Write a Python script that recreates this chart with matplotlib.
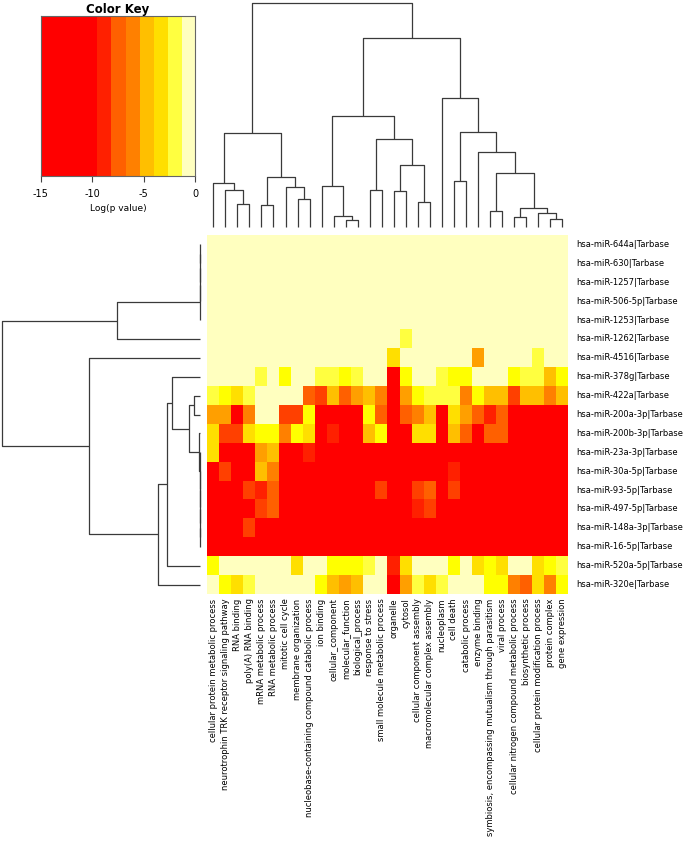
import numpy as np
import matplotlib
matplotlib.use("Agg")
import matplotlib.pyplot as plt
from matplotlib.colors import ListedColormap, BoundaryNorm

row_labels = [
    "hsa-miR-644a|Tarbase", "hsa-miR-630|Tarbase", "hsa-miR-1257|Tarbase",
    "hsa-miR-506-5p|Tarbase", "hsa-miR-1253|Tarbase", "hsa-miR-1262|Tarbase",
    "hsa-miR-4516|Tarbase", "hsa-miR-378g|Tarbase", "hsa-miR-422a|Tarbase",
    "hsa-miR-200a-3p|Tarbase", "hsa-miR-200b-3p|Tarbase", "hsa-miR-23a-3p|Tarbase",
    "hsa-miR-30a-5p|Tarbase", "hsa-miR-93-5p|Tarbase", "hsa-miR-497-5p|Tarbase",
    "hsa-miR-148a-3p|Tarbase", "hsa-miR-16-5p|Tarbase", "hsa-miR-520a-5p|Tarbase",
    "hsa-miR-320e|Tarbase",
]

col_labels = [
    "cellular protein metabolic process", "neurotrophin TRK receptor signaling pathway",
    "RNA binding", "poly(A) RNA binding", "mRNA metabolic process",
    "RNA metabolic process", "mitotic cell cycle", "membrane organization",
    "nucleobase-containing compound catabolic process", "ion binding",
    "cellular_component", "molecular_function", "biological_process",
    "response to stress", "small molecule metabolic process", "organelle", "cytosol",
    "cellular component assembly", "macromolecular complex assembly", "nucleoplasm",
    "cell death", "catabolic process", "enzyme binding",
    "symbiosis, encompassing mutualism through parasitism", "viral process",
    "cellular nitrogen compound metabolic process", "biosynthetic process",
    "cellular protein modification process", "protein complex", "gene expression",
]

W = -0.5
logp = np.array([
    [W] * 30,
    [W] * 30,
    [W] * 30,
    [W] * 30,
    [W] * 30,
    [W] * 16 + [-2] + [W] * 13,
    [W] * 15 + [-5] + [W] * 6 + [-7.5] + [W] * 4 + [-2] + [W] * 2,
    [W, W, W, W, -2, W, -3.5, W, W, -2, -2, -3.5, -2, W, W, -15, -3.5, W, W, -2,
     -3.5, -3.5, W, W, W, -3.5, -2, -2, -6, -3.5],
    [-2, -3.5, -5, -2, W, W, W, W, -10, -11.5, -6, -10, -7.5, -6, -9, -15, -7.5,
     -3.5, -2, -2, -2, -9, -3.5, -6, -6, -11.5, -6, -6, -9, -6],
    [-7.5, -7.5, -15, -9, W, W, -11.5, -11.5, -3.5, -15, -15, -15, -15, -3.5, -10,
     -15, -10, -9, -6, -15, -5, -7.5, -10, -13, -10, -15, -15, -15, -15, -15],
    [-5, -11.5, -11.5, -5, -3.5, -3.5, -9, -3.5, -5, -15, -13, -15, -15, -6, -3.5,
     -15, -15, -5, -5, -15, -6, -10, -15, -10, -10, -15, -15, -15, -15, -15],
    [-5, -15, -15, -15, -7.5, -6, -15, -15, -13] + [-15] * 21,
    [-15, -11.5, -15, -15, -6, -9] + [-15] * 14 + [-13] + [-15] * 9,
    [-15, -15, -15, -11.5, -13, -10] + [-15] * 8 + [-11.5, -15, -15, -11.5, -10, -15,
     -11.5] + [-15] * 9,
    [-15, -15, -15, -15, -11.5, -10] + [-15] * 11 + [-13, -11.5] + [-15] * 11,
    [-15, -15, -15, -11.5] + [-15] * 26,
    [-15] * 30,
    [-3.5, W, W, W, W, W, W, -5, W, W, -3.5, -3.5, -3.5, -2, W, -13, -5, W, W, W,
     -3.5, W, -5, -3.5, -5, W, W, -5, -3.5, -2],
    [W, -3.5, -5, -2, W, W, W, W, W, -3.5, -6, -7.5, -6, W, W, -15, -7.5, -2, -5,
     -2, W, W, W, -3.5, -3.5, -9, -10, -5, -9, -3.5],
])

# (child a, child b, merge height); leaves are 0..n-1, merged clusters n, n+1, ...
col_merges = [
    (2, 3, 67), (1, 30, 109), (0, 31, 130), (4, 5, 65), (7, 8, 83), (6, 34, 120),
    (33, 35, 148), (32, 36, 280), (11, 12, 19), (10, 38, 31), (9, 39, 121),
    (13, 14, 111), (15, 16, 107), (17, 18, 73), (42, 43, 186), (41, 44, 264),
    (40, 45, 333), (20, 21, 138), (23, 24, 46), (25, 26, 29), (28, 29, 22),
    (27, 50, 40), (49, 51, 56), (48, 52, 160), (22, 53, 225), (47, 54, 285),
    (19, 55, 387), (46, 56, 565), (37, 57, 672),
]
row_merges = [
    (0, 1, 0), (19, 2, 0), (20, 3, 0), (21, 4, 0), (22, 5, 83),
    (15, 16, 0), (14, 24, 0), (13, 25, 0), (12, 26, 0), (11, 27, 0), (10, 28, 1),
    (8, 9, 6.2), (30, 29, 11.2), (7, 31, 28), (32, 17, 32.5), (33, 18, 42),
    (6, 34, 111), (23, 35, 198),
]

palette = ["#FF0000", "#FF2000", "#FF4000", "#FF6000", "#FF8000", "#FF9F00",
           "#FFBF00", "#FFDF00", "#FFFF00", "#FFFF40", "#FFFFBF"]
key_index = [0, 0, 0, 0, 1, 3, 4, 6, 7, 9, 10]
key_ticks = [-15, -10, -5, 0]

cmap = ListedColormap(palette)
norm = BoundaryNorm(np.linspace(-15, 0, len(palette) + 1), cmap.N)

FW, FH = 685, 844
fig = plt.figure(figsize=(FW / 100, FH / 100), dpi=100)


def box(l, t, r, b):
    return [l / FW, 1 - b / FH, (r - l) / FW, (b - t) / FH]


nr, nc = logp.shape
hx0, hx1, hy0, hy1 = 207.3, 568.3, 235.0, 594.0

ax = fig.add_axes(box(hx0, hy0, hx1, hy1))
ax.imshow(logp, cmap=cmap, norm=norm, aspect="auto", interpolation="nearest",
          extent=(-0.5, nc - 0.5, nr - 0.5, -0.5))
ax.set_xlim(-0.5, nc - 0.5)
ax.set_ylim(nr - 0.5, -0.5)
ax.axis("off")
fs = 6.0
for i, lab in enumerate(row_labels):
    ax.text(nc - 0.5 + 7.5 / 12.03, i, lab, ha="left", va="center", fontsize=fs)
for j, lab in enumerate(col_labels):
    ax.text(j, nr - 0.5 + 4.5 / 18.9, lab, ha="center", va="top", rotation=90,
            fontsize=fs)

LC = "#3a3a3a"
LW = 0.9


def draw_dendro(dax, merges, n, top):
    pos = {i: float(i) for i in range(n)}
    hgt = {i: 0.0 for i in range(n)}
    for k, (a, b, h) in enumerate(merges):
        xs = [pos[a], pos[a], pos[b], pos[b]]
        ys = [hgt[a], h, h, hgt[b]]
        if top:
            dax.plot(xs, ys, color=LC, lw=LW, clip_on=False, solid_capstyle="butt")
        else:
            dax.plot(ys, xs, color=LC, lw=LW, clip_on=False, solid_capstyle="butt")
        pos[n + k] = (pos[a] + pos[b]) / 2
        hgt[n + k] = h


cax = fig.add_axes(box(hx0, 2.7, hx1, 226.7))
draw_dendro(cax, col_merges, nc, True)
cax.set_xlim(-0.5, nc - 0.5)
cax.set_ylim(0, col_merges[-1][2])
cax.axis("off")

rax = fig.add_axes(box(1.7, hy0, 199.7, hy1))
draw_dendro(rax, row_merges, nr, False)
rax.set_xlim(row_merges[-1][2], 0)
rax.set_ylim(nr - 0.5, -0.5)
rax.axis("off")

kax = fig.add_axes(box(40.7, 16.0, 195.0, 175.7))
key_cols = [palette[i] for i in key_index]
kvals = np.arange(len(key_index))[None, :]
kax.imshow(kvals, cmap=ListedColormap(key_cols), aspect="auto",
           interpolation="nearest", extent=(-15, 0, 0, 1))
kax.set_xlim(-15, 0)
kax.set_ylim(0, 1)
kax.set_yticks([])
kax.set_xticks(key_ticks)
kax.set_xticklabels([str(t) for t in key_ticks])
kax.tick_params(axis="x", length=4.5, width=0.8, labelsize=7, pad=5, color="#444444")
for s in kax.spines.values():
    s.set_color("#666666")
    s.set_linewidth(0.8)
kax.set_xlabel("Log(p value)", fontsize=6.5, labelpad=3.5)
kax.set_title("Color Key", fontsize=8.5, fontweight="bold", pad=2)

fig.savefig("out.png", dpi=100)
